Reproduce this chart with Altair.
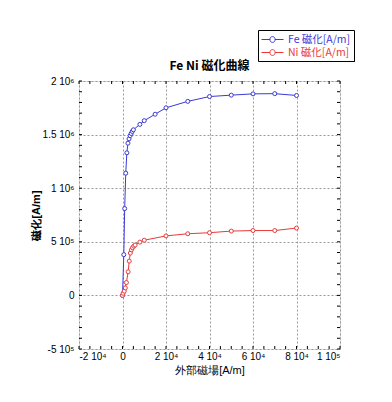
import altair as alt
import pandas as pd

# ---- data ----
fe_h = [0, 600, 1000, 1500, 2000, 2500, 3000, 3500, 4000, 4500, 5000,
        8000, 10000, 15000, 20000, 30000, 40000, 50000, 60000, 70000, 80000]
fe_m = [0, 380000, 810000, 1140000, 1330000, 1420000, 1460000, 1490000, 1510000,
        1530000, 1545000, 1595000, 1630000, 1690000, 1750000, 1810000, 1855000,
        1868000, 1880000, 1882000, 1865000]
ni_h = [0, 300, 800, 1300, 1800, 2600, 3100, 3600, 4100, 4600, 5200, 5800,
        8000, 10000, 20000, 30000, 40000, 50000, 60000, 70000, 80000]
ni_m = [0, 20000, 40000, 70000, 120000, 220000, 320000, 395000, 425000, 445000,
        460000, 470000, 497000, 515000, 555000, 575000, 585000, 600000, 605000,
        605000, 628000]
series = ["Fe 磁化[A/m]", "Ni 磁化[A/m]"]
colors = ["#3a3ad6", "#e83a3a"]

x_ticks = [-20000, 0, 20000, 40000, 60000, 80000, 100000]
x_labels = ["-2 10⁴", "0", "2 10⁴", "4 10⁴", "6 10⁴", "8 10⁴", "1 10⁵"]
y_ticks = [-500000, 0, 500000, 1000000, 1500000, 2000000]
y_labels = ["-5 10⁵", "0", "5 10⁵", "1 10⁶", "1.5 10⁶", "2 10⁶"]
x_minor = list(range(-20000, 100001, 5000))
y_minor = list(range(-500000, 2000001, 100000))

W, H = 261, 268
FONT = "Noto Sans CJK JP"

df = pd.DataFrame(
    {"H": fe_h + ni_h, "M": fe_m + ni_m,
     "s": [series[0]] * len(fe_h) + [series[1]] * len(ni_h)}
)


def label_expr(vals, labs):
    e = "''"
    for v, l in zip(vals, labs):
        e = f"datum.value == {v} ? '{l}' : ({e})"
    return e


xs = alt.Scale(domain=[-20000, 100000], nice=False, zero=False)
ys = alt.Scale(domain=[-500000, 2000000], nice=False, zero=False)

xaxis = alt.Axis(values=x_ticks, labelExpr=label_expr(x_ticks, x_labels), title="外部磁場[A/m]",
                 grid=True, gridDash=[2, 2], gridColor="#999999", gridWidth=1,
                 ticks=False, domain=False, labelPadding=2, titlePadding=3,
                 titleFontWeight="normal")
yaxis = alt.Axis(values=y_ticks, labelExpr=label_expr(y_ticks, y_labels), title="磁化[A/m]",
                 grid=True, gridDash=[2, 2], gridColor="#999999", gridWidth=1,
                 ticks=False, domain=False, labelPadding=5, titlePadding=1,
                 titleFontWeight="bold")

# legend symbol: short line with a small circle (unit scale = 6 px)
legend_symbol = ("M-1,0L0.42,0M1.25,0L2.67,0"
                 "M0.42,0A0.42,0.42 0 1,0 1.25,0A0.42,0.42 0 1,0 0.42,0")

color = alt.Color(
    "s:N",
    scale=alt.Scale(domain=series, range=colors),
    legend=alt.Legend(
        title=None, orient="none", legendX=179, legendY=-51,
        fillColor="white", strokeColor="black", padding=3,
        symbolType=legend_symbol,
        symbolSize=144, symbolStrokeWidth=1, symbolFillColor="white",
        labelColor={"expr": f"datum.value == '{series[0]}' ? '{colors[0]}' : '{colors[1]}'"},
        labelFont=FONT, labelFontSize=10.5, rowPadding=1, labelOffset=14,
    ),
)

# drop shadow behind the legend box (decoration, in pixels)
shadow_df = pd.DataFrame({"x": [182], "x2": [276], "y": [-48], "y2": [-19]})
shadow = alt.Chart(shadow_df).mark_rect(color="black", opacity=1).encode(
    x=alt.X("x:Q", scale=None), x2="x2:Q",
    y=alt.Y("y:Q", scale=None), y2="y2:Q",
)

lines = alt.Chart(df).mark_line(strokeWidth=1).encode(
    x=alt.X("H:Q", scale=xs, axis=xaxis),
    y=alt.Y("M:Q", scale=ys, axis=yaxis),
    color=color,
    detail="s:N",
)
points = alt.Chart(df).mark_point(shape="circle", size=16, filled=False, fill="white",
                                  strokeWidth=1, opacity=1).encode(
    x=alt.X("H:Q", scale=xs), y=alt.Y("M:Q", scale=ys), color=color
)

xt = pd.DataFrame({"v": x_minor})
yt = pd.DataFrame({"v": y_minor})
tick_kw = dict(color="black", strokeWidth=1)
xt_bot = alt.Chart(xt).mark_rule(**tick_kw).encode(
    x=alt.X("v:Q", scale=xs), y=alt.value(H - 3), y2=alt.value(H))
xt_top = alt.Chart(xt).mark_rule(**tick_kw).encode(
    x=alt.X("v:Q", scale=xs), y=alt.value(0), y2=alt.value(3))
yt_left = alt.Chart(yt).mark_rule(**tick_kw).encode(
    y=alt.Y("v:Q", scale=ys), x=alt.value(0), x2=alt.value(3))
yt_right = alt.Chart(yt).mark_rule(**tick_kw).encode(
    y=alt.Y("v:Q", scale=ys), x=alt.value(W - 3), x2=alt.value(W))

chart = alt.layer(xt_bot, xt_top, yt_left, yt_right, lines, points, shadow).properties(
    width=W, height=H,
    title=alt.Title("Fe Ni 磁化曲線", font=FONT, fontSize=12, fontWeight="bold", offset=8, dy=51),
    autosize=alt.AutoSizeParams(type="none"),
    padding={"left": 79, "top": 81, "right": 52, "bottom": 53},
).resolve_scale(x="shared", y="shared").configure_view(stroke="black", strokeWidth=1).configure_axis(
    labelFont=FONT, labelFontSize=10.5, labelColor="black",
    titleFont=FONT, titleFontSize=10.5, titleColor="black",
).configure(background="white")

chart.save("out.html", embed_options={"renderer": "svg", "actions": False})
